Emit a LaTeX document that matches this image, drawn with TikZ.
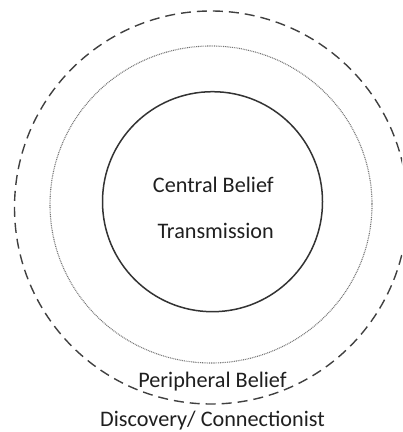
\documentclass[tikz,border=0pt]{standalone}
\usepackage{fontspec}
\setmainfont{Carlito}
\begin{document}
\begin{tikzpicture}[x=0.5pt,y=-0.5pt,
  label/.style={font=\fontsize{11.1}{13}\selectfont, text=black!88, inner sep=0pt, anchor=base},
  core/.style={draw=black!80, line width=0.75pt},
  middle/.style={draw=black!55, line width=0.55pt, dash pattern=on 0.45pt off 0.45pt},
  outer/.style={draw=black!75, line width=0.7pt, dash pattern=on 5pt off 3pt}]
  \clip (0,0) rectangle (402,432);
  % concentric belief layers
  \draw[outer] (211,207.5) circle [radius=196.5];
  \draw[middle] (211,204.5) ellipse [x radius=161, y radius=158.5];
  \draw[core] (212.5,201.7) circle [radius=110];
  % labels
  \node[label] (central) at (213.3,192) {Central Belief};
  \node[label] (trans) at (215.7,238) {Transmission};
  \node[label] (periph) at (212.5,387) {Peripheral Belief};
  \node[label] (disc) at (212.5,426) {Discovery/ Connectionist};
\end{tikzpicture}
\end{document}
